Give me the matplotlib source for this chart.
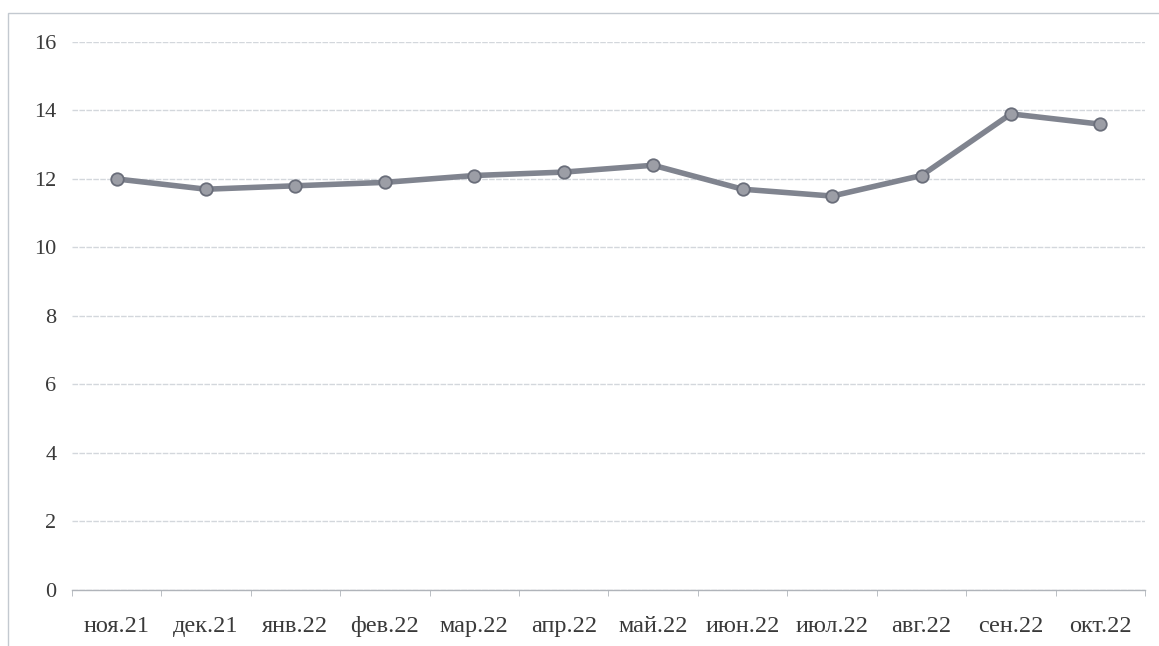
import matplotlib.pyplot as plt
import numpy as np
from matplotlib.patches import Rectangle

months = ["ноя.21", "дек.21", "янв.22", "фев.22", "мар.22", "апр.22",
          "май.22", "июн.22", "июл.22", "авг.22", "сен.22", "окт.22"]
values = [12.0, 11.7, 11.8, 11.9, 12.1, 12.2, 12.4, 11.7, 11.5, 12.1, 13.9, 13.6]
y_ticks = [0, 2, 4, 6, 8, 10, 12, 14, 16]

plt.rcParams['font.family'] = ['Liberation Serif', 'DejaVu Serif']

fig = plt.figure(figsize=(11.59, 6.46), dpi=100)
ax = fig.add_axes([0.062, 0.087, 0.926, 0.848])

# outer chart frame (only left/top visible in the scan)
fig.patches.append(Rectangle((8 / 1159, -0.1), 1.2, 1 - 13 / 646 + 0.1,
                             transform=fig.transFigure, fill=False,
                             edgecolor="#c3c9d0", linewidth=1.0))

x = np.arange(len(months))
ax.plot(x, values, color="#80848f", linewidth=4.0, marker="o", markersize=9,
        markerfacecolor="#9c9ea6", markeredgecolor="#6a6e7a", markeredgewidth=1.3,
        zorder=3)

ax.set_xlim(-0.5, len(months) - 0.5)
ax.set_ylim(0, 16)
ax.set_yticks(y_ticks)
ax.set_yticklabels([str(v) for v in y_ticks], fontsize=16, color="#3a3a3a")
ax.set_xticks(x)
ax.set_xticklabels(months, fontsize=17.5, color="#3a3a3a")
ax.set_xticks(np.arange(-0.5, len(months), 1), minor=True)
ax.tick_params(axis="x", which="major", length=0, pad=19)
ax.tick_params(axis="x", which="minor", length=4, color="#b0b4ba", direction="out")
ax.tick_params(axis="y", length=0, pad=11)

ax.grid(axis="y", color="#d3d7dc", linewidth=1.0, linestyle=(0, (4, 1)))
ax.set_axisbelow(True)
for side in ["top", "right", "left"]:
    ax.spines[side].set_visible(False)
ax.spines["bottom"].set_color("#b0b4ba")
ax.spines["bottom"].set_linewidth(1.0)

fig.savefig("out.png", dpi=100, facecolor="white")
